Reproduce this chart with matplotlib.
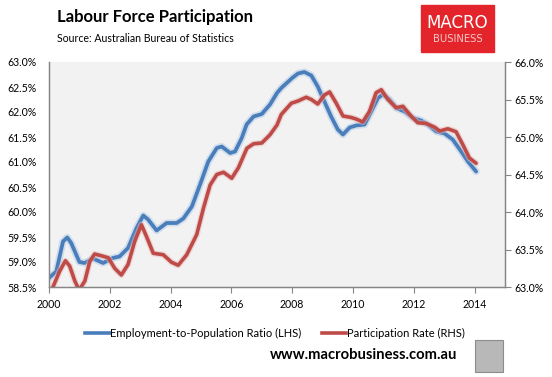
import matplotlib
matplotlib.use('Agg')
import matplotlib.pyplot as plt
import matplotlib.patheffects as pe
from matplotlib.patches import Rectangle
from matplotlib.ticker import FuncFormatter, MultipleLocator

plt.rcParams['font.family'] = ['Lato', 'DejaVu Sans']

# Employment-to-population ratio (LHS), %
emp_years = [2000.0, 2000.24, 2000.46, 2000.6, 2000.73, 2001.0, 2001.17, 2001.45, 2001.78,
             2002.1, 2002.32, 2002.6, 2002.88, 2003.1, 2003.26, 2003.54, 2003.87, 2004.2,
             2004.42, 2004.7, 2004.97, 2005.24, 2005.52, 2005.68, 2005.96, 2006.12, 2006.34,
             2006.5, 2006.73, 2007.0, 2007.27, 2007.5, 2007.64, 2008.0, 2008.19, 2008.4,
             2008.63, 2008.84, 2009.06, 2009.28, 2009.5, 2009.67, 2009.89, 2010.1, 2010.38,
             2010.6, 2010.82, 2010.98, 2011.2, 2011.42, 2011.7, 2011.97, 2012.24, 2012.46,
             2012.74, 2013.01, 2013.28, 2013.56, 2013.78, 2014.05]
emp_ratio = [58.68, 58.81, 59.41, 59.49, 59.38, 59.0, 58.98, 59.07, 58.98,
             59.08, 59.11, 59.28, 59.68, 59.93, 59.85, 59.63, 59.78, 59.78,
             59.87, 60.11, 60.55, 61.01, 61.28, 61.31, 61.18, 61.21, 61.48,
             61.75, 61.91, 61.96, 62.15, 62.38, 62.48, 62.68, 62.77, 62.8,
             62.73, 62.51, 62.21, 61.91, 61.65, 61.55, 61.69, 61.73, 61.75,
             62.01, 62.28, 62.35, 62.25, 62.08, 62.01, 61.88, 61.83, 61.75,
             61.61, 61.57, 61.45, 61.21, 61.01, 60.81]

# Participation rate (RHS), %
part_years = [2000.0, 2000.13, 2000.35, 2000.54, 2000.68, 2000.85, 2000.99, 2001.18, 2001.34,
              2001.5, 2001.78, 2001.95, 2002.16, 2002.38, 2002.6, 2002.82, 2003.04, 2003.2,
              2003.43, 2003.76, 2004.03, 2004.25, 2004.53, 2004.86, 2005.08, 2005.3, 2005.52,
              2005.74, 2006.01, 2006.23, 2006.51, 2006.73, 2007.0, 2007.27, 2007.5, 2007.64,
              2007.97, 2008.19, 2008.46, 2008.63, 2008.84, 2009.06, 2009.23, 2009.45, 2009.67,
              2009.94, 2010.1, 2010.32, 2010.54, 2010.76, 2010.93, 2011.15, 2011.42, 2011.64,
              2011.91, 2012.13, 2012.41, 2012.69, 2012.85, 2013.12, 2013.39, 2013.61, 2013.83,
              2014.05]
part_rate = [62.9, 63.0, 63.21, 63.35, 63.28, 63.08, 62.96, 63.08, 63.34,
             63.44, 63.41, 63.39, 63.25, 63.16, 63.30, 63.61, 63.83, 63.68,
             63.45, 63.43, 63.33, 63.29, 63.43, 63.70, 64.05, 64.36, 64.50,
             64.53, 64.45, 64.59, 64.85, 64.91, 64.92, 65.03, 65.16, 65.30,
             65.45, 65.48, 65.53, 65.50, 65.44, 65.56, 65.60, 65.45, 65.28,
             65.26, 65.24, 65.20, 65.34, 65.59, 65.63, 65.50, 65.39, 65.41,
             65.28, 65.19, 65.18, 65.13, 65.08, 65.11, 65.07, 64.90, 64.72,
             64.65]

blue = '#4a7ebb'
red = '#be4b48'
axis_grey = '#868686'

fig = plt.figure(figsize=(5.52, 3.77), dpi=100)
ax = fig.add_axes([49 / 552, 1 - 287 / 377, 456 / 552, 225 / 377])
ax.set_facecolor('#f2f2f2')
ax2 = ax.twinx()

ax.plot(emp_years, emp_ratio, color=blue, lw=2.7, solid_capstyle='round',
        path_effects=[pe.Stroke(linewidth=5.2, foreground='#b9cfe8', alpha=0.6), pe.Normal()])
ax2.plot(part_years, part_rate, color=red, lw=2.6, solid_capstyle='round',
         path_effects=[pe.Stroke(linewidth=4.5, foreground='#e6bcbb', alpha=0.5), pe.Normal()])

ax.set_xlim(2000, 2015)
ax.set_ylim(58.5, 63.0)
ax2.set_ylim(63.0, 66.0)
ax.xaxis.set_major_locator(MultipleLocator(2))
ax.xaxis.set_major_formatter(FuncFormatter(lambda v, p: '' if v > 2014 else '%d' % v))
ax.yaxis.set_major_locator(MultipleLocator(0.5))
ax2.yaxis.set_major_locator(MultipleLocator(0.5))
pct = FuncFormatter(lambda v, p: '%.1f%%' % v)
ax.yaxis.set_major_formatter(pct)
ax2.yaxis.set_major_formatter(pct)

for a in (ax, ax2):
    a.spines['top'].set_visible(False)
    for s in ('left', 'right', 'bottom'):
        a.spines[s].set_color(axis_grey)
        a.spines[s].set_linewidth(0.9)
    a.tick_params(labelsize=7.6, colors='black', length=0)
ax.tick_params(axis='x', length=4, color=axis_grey, direction='out', pad=5)
ax2.tick_params(axis='y', length=4, color=axis_grey, direction='out', pad=3)
ax.tick_params(axis='y', pad=9)

# title block
fig.text(57 / 552, 1 - 17 / 377, 'Labour Force Participation', fontsize=12,
         fontweight='bold', va='center', ha='left')
fig.text(57 / 552, 1 - 39 / 377, 'Source: Australian Bureau of Statistics', fontsize=7.6,
         va='center', ha='left')

# logo
fig.patches.append(Rectangle((421 / 552, 1 - 52 / 377), 73 / 552, 47 / 377,
                             transform=fig.transFigure, color='#e3242b', zorder=0))
fig.text(457.5 / 552, 1 - 23 / 377, 'MACRO', fontsize=12, color='white',
         ha='center', va='center', family='DejaVu Sans')
fig.text(457.5 / 552, 1 - 38.5 / 377, 'BUSINESS', fontsize=7.2, color='#f7c9c9',
         ha='center', va='center', family='DejaVu Sans')

# legend
handles = [plt.Line2D([], [], color=blue, lw=2.6),
           plt.Line2D([], [], color=red, lw=2.6)]
fig.legend(handles, ['Employment-to-Population Ratio (LHS)', 'Participation Rate (RHS)'],
           loc='center', bbox_to_anchor=(275 / 552, 1 - 333 / 377), ncol=2, frameon=False,
           fontsize=8.0, handlelength=2.2, handletextpad=0.05, columnspacing=1.8)

# footer
fig.text(457 / 552, 1 - 355 / 377, 'www.macrobusiness.com.au', fontsize=10.6,
         fontweight='bold', ha='right', va='center')
fig.patches.append(Rectangle((475 / 552, 1 - 372 / 377), 28 / 552, 32 / 377,
                             transform=fig.transFigure, facecolor='#b8b8b8',
                             edgecolor='#8c8c8c', lw=0.8))

fig.savefig('out.png', dpi=100)
